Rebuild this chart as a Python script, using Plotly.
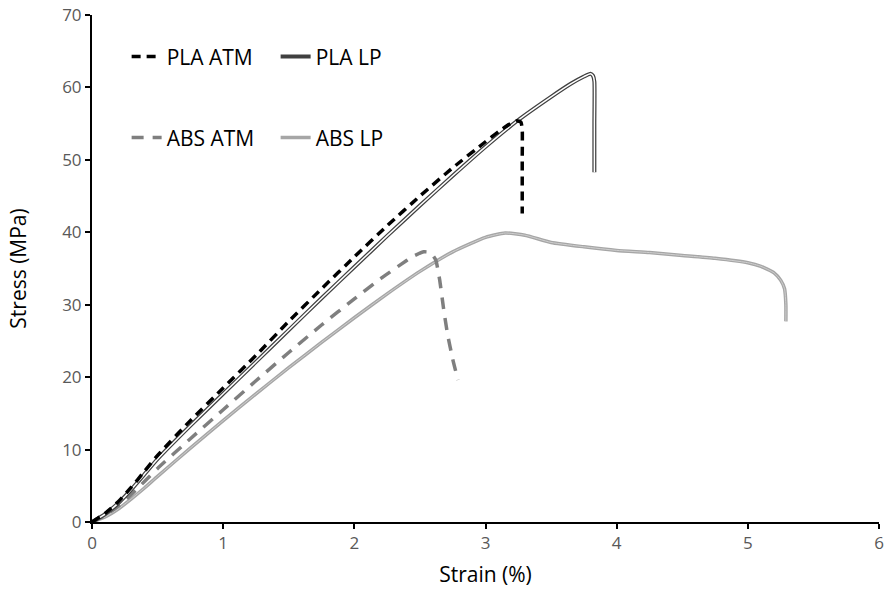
import plotly.graph_objects as go

# Data
pla_atm_x = [0, 0.1, 0.2, 0.3, 0.4, 0.5, 0.75, 1.0, 1.25, 1.5, 1.75, 2.0, 2.25, 2.5, 2.75, 3.0, 3.1, 3.18, 3.24, 3.27, 3.28, 3.28, 3.28]
pla_atm_y = [0, 1.2, 2.8, 4.8, 7.0, 9.2, 14.0, 18.5, 23.0, 27.7, 32.2, 36.6, 40.9, 45.0, 48.9, 52.5, 53.9, 54.9, 55.4, 55.2, 54.2, 50.0, 42.6]

pla_lp_x = [0, 0.1, 0.2, 0.3, 0.4, 0.5, 0.75, 1.0, 1.25, 1.5, 1.75, 2.0, 2.25, 2.5, 2.75, 3.0, 3.25, 3.5, 3.65, 3.75, 3.8, 3.82, 3.83, 3.83, 3.83]
pla_lp_y = [0, 1.1, 2.6, 4.5, 6.6, 8.7, 13.3, 17.7, 22.1, 26.5, 30.9, 35.2, 39.5, 43.7, 47.8, 51.8, 55.5, 58.7, 60.5, 61.5, 61.9, 61.6, 60.8, 55.0, 48.3]

abs_atm_x = [0, 0.1, 0.2, 0.3, 0.4, 0.5, 0.75, 1.0, 1.25, 1.5, 1.75, 2.0, 2.2, 2.35, 2.45, 2.53, 2.58, 2.62, 2.65, 2.68, 2.71, 2.75, 2.79]
abs_atm_y = [0, 0.9, 2.2, 3.8, 5.6, 7.4, 11.5, 15.5, 19.5, 23.4, 27.2, 30.8, 33.6, 35.5, 36.7, 37.3, 37.2, 36.2, 33.5, 29.5, 26.0, 22.5, 19.6]

abs_lp_x = [0, 0.1, 0.2, 0.3, 0.4, 0.5, 0.75, 1.0, 1.25, 1.5, 1.75, 2.0, 2.25, 2.5, 2.75, 3.0, 3.15, 3.3, 3.5, 3.75, 4.0, 4.25, 4.5, 4.75, 5.0, 5.1, 5.2, 5.25, 5.28, 5.29, 5.29]
abs_lp_y = [0, 0.7, 1.8, 3.2, 4.7, 6.3, 10.2, 14.0, 17.7, 21.3, 24.8, 28.2, 31.5, 34.6, 37.3, 39.3, 39.9, 39.6, 38.6, 38.0, 37.5, 37.2, 36.8, 36.4, 35.8, 35.3, 34.4, 33.4, 32.2, 30.0, 27.7]

x_ticks = [0, 1, 2, 3, 4, 5, 6]
y_ticks = [0, 10, 20, 30, 40, 50, 60, 70]

FONT = "Open Sans"

fig = go.Figure()

# ABS LP (double light gray line)
fig.add_trace(go.Scatter(x=abs_lp_x, y=abs_lp_y, mode="lines", name="ABS LP",
                         line=dict(color="#a6a6a6", width=3.5, shape="spline", smoothing=0.5),
                         legend="legend2"))
fig.add_trace(go.Scatter(x=abs_lp_x, y=abs_lp_y, mode="lines", showlegend=False, hoverinfo="skip",
                         line=dict(color="#cfcfcf", width=1, shape="spline", smoothing=0.5)))
# ABS ATM dashed gray
fig.add_trace(go.Scatter(x=abs_atm_x, y=abs_atm_y, mode="lines", name="ABS ATM",
                         line=dict(color="#7f7f7f", width=3.5, dash="12px,9px", shape="spline", smoothing=0.5),
                         legend="legend2"))
# PLA LP double dark line
fig.add_trace(go.Scatter(x=pla_lp_x, y=pla_lp_y, mode="lines", name="PLA LP",
                         line=dict(color="#404040", width=4, shape="spline", smoothing=0.5),
                         legend="legend"))
fig.add_trace(go.Scatter(x=pla_lp_x, y=pla_lp_y, mode="lines", showlegend=False, hoverinfo="skip",
                         line=dict(color="#ffffff", width=1.5, shape="spline", smoothing=0.5)))
# PLA ATM dashed black
fig.add_trace(go.Scatter(x=pla_atm_x, y=pla_atm_y, mode="lines", name="PLA ATM",
                         line=dict(color="#000000", width=3.5, dash="9px,6px", shape="spline", smoothing=0.5),
                         legend="legend"))

axis_common = dict(showgrid=False, zeroline=False, showline=True, linecolor="black", linewidth=2,
                   ticks="outside", ticklen=5, tickwidth=2, tickcolor="black", automargin=False,
                   tickfont=dict(family=FONT, size=17, color="#595959"))

fig.update_layout(
    width=886, height=594,
    margin=dict(l=92, r=7, t=15, b=72),
    paper_bgcolor="white", plot_bgcolor="white",
    font=dict(family=FONT, color="black"),
    xaxis=dict(range=[0, 6], tickvals=x_ticks, title=dict(text="Strain (%)", font=dict(family=FONT, size=21, color="black"), standoff=14), **axis_common),
    yaxis=dict(range=[0, 70], tickvals=y_ticks, title=dict(text="Stress (MPa)", font=dict(family=FONT, size=21, color="black"), standoff=30), **axis_common),
    legend=dict(orientation="h", x=0.044, y=0.958, xanchor="left", yanchor="top",
                traceorder="reversed", entrywidth=104, entrywidthmode="pixels",
                font=dict(family=FONT, size=21, color="black"), bgcolor="rgba(0,0,0,0)", itemwidth=30),
    legend2=dict(orientation="h", x=0.044, y=0.798, xanchor="left", yanchor="top",
                 traceorder="reversed", entrywidth=104, entrywidthmode="pixels",
                 font=dict(family=FONT, size=21, color="black"), bgcolor="rgba(0,0,0,0)", itemwidth=30),
)

fig.write_html("out.html")
